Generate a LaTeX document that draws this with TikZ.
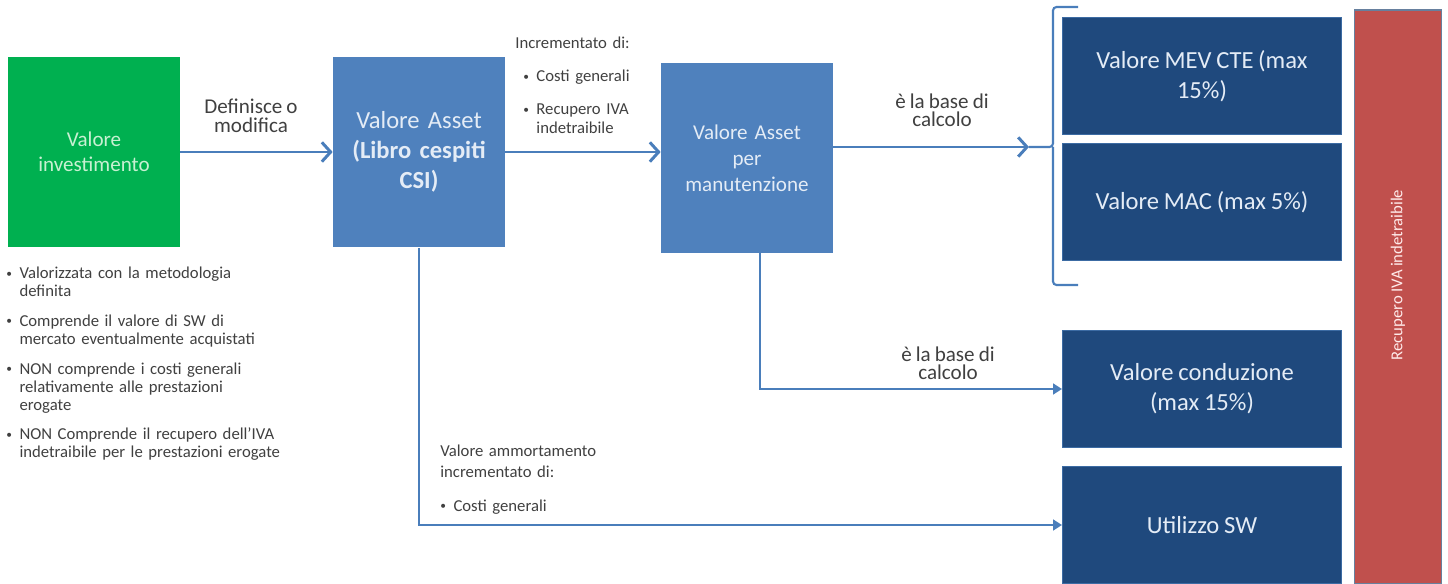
\documentclass[tikz,border=0pt]{standalone}
\usepackage{fontspec}
\setmainfont[WordSpace=0.85]{Carlito}
\usetikzlibrary{arrows.meta}
\usetikzlibrary{positioning}

\definecolor{verde}{HTML}{00B050}
\definecolor{verdechiaro}{HTML}{C8F0D2}
\definecolor{blu}{HTML}{4F81BD}
\definecolor{blunotte}{HTML}{1F497D}
\definecolor{rosso}{HTML}{C0504D}
\definecolor{linea}{HTML}{4A7EBB}
\definecolor{testo}{HTML}{404040}
\definecolor{chiaro}{HTML}{E4ECF6}

\newlength{\rientro}
\setlength{\rientro}{7.5pt}
\newcommand{\blt}[1][0pt]{\par\leftskip=#1\hangindent=\rientro\hangafter=1\noindent
  \makebox[\rientro][l]{\raisebox{0.2ex}{\fontsize{6.5}{6.5}\selectfont\textbullet}}}

\tikzset{
  box/.style={minimum width=3.44cm, minimum height=3.8cm, inner sep=2pt,
    text width=3.2cm, align=center, text=chiaro},
  voce/.style={fill=blunotte, draw=blu!60!blunotte, line width=0.6pt,
    minimum width=5.58cm, minimum height=2.34cm, align=center, text=chiaro,
    font=\fontsize{14}{17}\selectfont},
  nota/.style={text=testo, align=center, font=\fontsize{12}{10.5}\selectfont},
  elenco/.style={text=testo, anchor=north west, inner sep=0pt, align=left,
    font=\fontsize{9.5}{10.3}\selectfont,
    execute at begin node={\setlength{\parskip}{#1}}},
  elenco/.default=6.5pt,
  freccia/.style={draw=linea, line width=1.7pt, -{Straight Barb[length=5pt,width=11pt]}},
  freccina/.style={draw=linea, line width=1.5pt, -{Triangle[length=5pt,width=6pt]}},
  graffa/.style={draw=linea, line width=1.2pt, rounded corners=2pt}
}

\begin{document}
\begin{tikzpicture}[x=0.02cm, y=-0.02cm]
  \useasboundingbox (0,0) rectangle (1448,584);

  % riquadri
  \node[box, fill=verde, text=verdechiaro, font=\fontsize{12}{14.5}\selectfont] (inv) at (94,152) {Valore\\investimento};
  \node[box, fill=blu, minimum height=3.82cm, font=\fontsize{14}{17}\selectfont] (asset) at (419,152) {Valore Asset\\\textbf{(Libro cespiti}\\\textbf{CSI)}};
  \node[box, fill=blu, font=\fontsize{12}{14.8}\selectfont] (manut) at (747,158) {Valore Asset\\per\\manutenzione};

  % voci
  \node[voce] (mev) at (1202,76) {Valore MEV CTE (max\\15\%)};
  \node[voce] (mac) at (1202,202) {Valore MAC (max 5\%)};
  \node[voce] (cond) at (1202,389) {Valore conduzione\\(max 15\%)};
  \node[voce] (sw) at (1202,525) {Utilizzo SW};

  % IVA
  \node[fill=rosso, draw=blu!50!gray, line width=1pt, minimum width=1.74cm, minimum height=11.48cm] (iva) at (1398,297) {};
  \node[rotate=90, text=red!8!white, font=\fontsize{9.5}{11}\selectfont] (ivatxt) at ([yshift=0.44cm]iva.center) {Recupero IVA indetraibile};

  % graffa
  \coordinate (brk) at (1029,147);
  \draw[graffa] (1078,7) -- (1053,7) -- (1053,147) -- (brk)
    (1053,147) -- (1053,285) -- (1078,285);

  % frecce
  \draw[freccia] (inv) -- (asset);
  \draw[freccia] (asset) -- (asset -| manut.west);
  \draw[freccia] (manut.east |- brk) -- (brk);
  \draw[freccina] ([xshift=0.26cm]manut.south) |- (cond);
  \draw[freccina] (asset) |- (sw);

  % etichette
  \node[nota] (defin) at (251,116) {Definisce o\\modifica};
  \node[nota] (base1) at (942,110) {è la base di\\calcolo};
  \node[nota] (base2) at (948,363) {è la base di\\calcolo};
  \node[elenco=8.5pt, text width=2.9cm] (incr) at (515,37)
    {Incrementato di:\blt[4.5pt]Costi generali\blt[4.5pt]Recupero IVA\newline indetraibile\par};
  \node[elenco=7.2pt, text width=6cm] (ammort) at (440,445)
    {\fontsize{9.5}{11.9}\selectfont Valore ammortamento\newline incrementato di:\blt Costi generali\par};

  % note
  \node[elenco, text width=6cm] (note) at (6,249)
    {\blt Valorizzata con la metodologia\newline definita
     \blt Comprende il valore di SW di\newline mercato eventualmente acquistati
     \blt NON comprende i costi generali\newline relativamente alle prestazioni\newline erogate
     \blt NON Comprende il recupero dell’IVA\newline indetraibile per le prestazioni erogate\par};
\end{tikzpicture}
\end{document}
